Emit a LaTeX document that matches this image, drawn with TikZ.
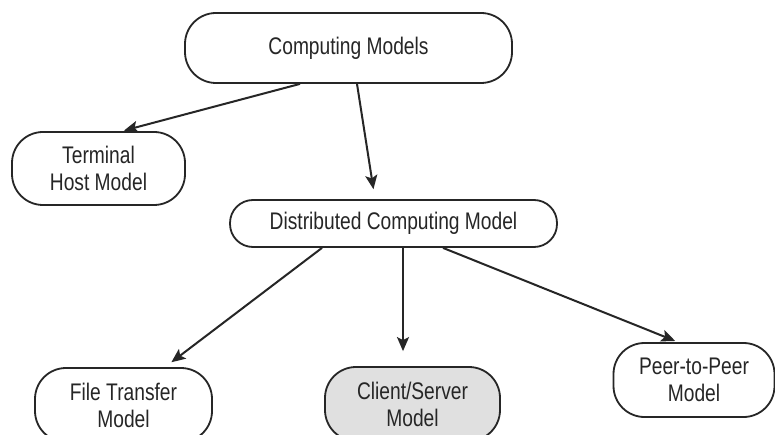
\documentclass[tikz,border=0pt]{standalone}
\usepackage{fontspec}
\setmainfont{Liberation Sans}[FakeStretch=0.8]
\usetikzlibrary{arrows.meta}
\tikzset{
  modelbox/.style={draw=black!85, line width=1.8pt, rounded corners=31pt, align=center,
    inner sep=0pt, font=\fontsize{24}{27}\selectfont, text=black!85},
  link/.style={draw=black!85, line width=2pt,
    -{Stealth[length=14pt,width=12pt,inset=3pt]}}
}
\begin{document}
\begin{tikzpicture}[x=1pt,y=-1pt]
  \clip (0,0) rectangle (775,435);
  \fill[white] (0,0) rectangle (775,435);
  \node[modelbox, minimum width=327pt, minimum height=70pt] (cm) at (348.5,48) {Computing Models};
  \node[modelbox, minimum width=173pt, minimum height=73pt] (th) at (98.5,168.5) {Terminal\\Host Model};
  \node[modelbox, rounded corners=23pt, minimum width=327pt, minimum height=47pt] (dcm) at (393.5,223.5) {Distributed Computing Model};
  \node[modelbox, minimum width=177pt, minimum height=74pt] (ft) at (123.5,405) {File Transfer\\Model};
  \node[modelbox, fill=black!12, minimum width=175pt, minimum height=74pt] (cs) at (412.5,404) {Client/Server\\Model};
  \node[modelbox, minimum width=161pt, minimum height=74pt] (pp) at (694,380) {Peer-to-Peer\\Model};

  \draw[link, shorten >=2pt] ([xshift=-48.5pt]cm.south) -- ([xshift=23.5pt]th.north);
  \draw[link, shorten >=10pt] ([xshift=8.5pt]cm.south) -- ([xshift=-18.5pt]dcm.north);
  \draw[link, shorten >=8pt] ([xshift=-71.5pt]dcm.south) -- ([xshift=41.5pt]ft.north);
  \draw[link, shorten >=15pt] ([xshift=9.5pt]dcm.south) -- ([xshift=-9.5pt]cs.north);
  \draw[link, shorten >=3pt] ([xshift=49.5pt]dcm.south) -- ([xshift=-16pt]pp.north);
\end{tikzpicture}
\end{document}
